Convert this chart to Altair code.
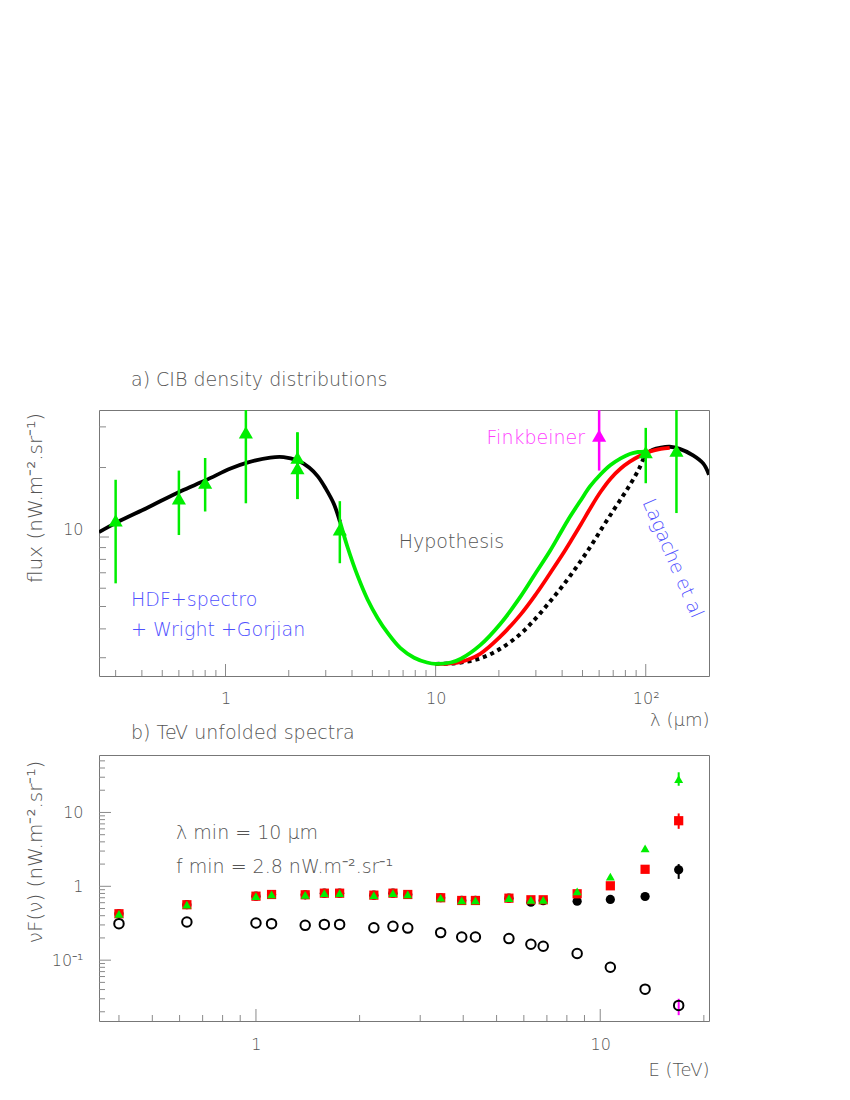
import altair as alt
import pandas as pd

FONT = "DejaVu Sans"
FW = 300
GREY = "#555555"
TICK = "#8a8a8a"
GREEN = "#00ee00"
RED = "#ff0000"
MAGENTA = "#ff00ff"
BLUE = "#5050ff"

# ---------------- panel a) CIB density distributions ----------------
nir_lam = [0.25, 0.306, 0.425, 0.612, 0.804, 1.057, 1.268, 1.635, 1.89, 2.19, 2.5, 2.75, 3.0, 3.28, 3.51]
nir_flux = [10.5, 11.6, 13.4, 15.8, 17.6, 19.8, 21.0, 22.1, 22.2, 21.5, 20.0, 18.3, 16.2, 13.9, 11.6]

fir_lam = [97.5, 101, 108, 118, 130, 145, 168, 188, 200]
fir_flux = [21.8, 23.0, 23.9, 24.4, 24.6, 24.1, 22.6, 20.8, 18.6]

green_lam = [3.51, 3.8, 4.25, 4.75, 5.3, 5.9, 6.8, 7.9, 9.1, 10, 11.8, 13.2, 16.3, 20.3, 25.3,
             30, 35, 39, 43, 49, 54.4, 61, 68, 76, 84, 92, 99]
green_flux = [11.6, 9.1, 6.8, 5.35, 4.45, 3.85, 3.3, 3.0, 2.86, 2.82, 2.86, 2.97, 3.4, 4.2, 5.5,
              7.0, 8.7, 10.3, 12.0, 14.4, 16.6, 18.7, 20.5, 21.9, 22.9, 23.35, 23.45]

red_lam = [10, 11.5, 13.2, 16.3, 20.3, 25.3, 30, 35, 40, 44, 49, 54.4, 61, 68, 76, 84, 94, 105, 118, 130]
red_flux = [2.82, 2.83, 2.88, 3.12, 3.7, 4.6, 5.65, 6.95, 8.35, 9.6, 11.3, 13.3, 15.7, 17.9, 19.8, 21.2,
            22.5, 23.5, 24.1, 24.35]

dot_lam = [10, 11.5, 13.2, 16.3, 20.3, 25.3, 30, 35, 40, 47, 54.4, 62, 70, 78, 84, 90, 94, 97.5]
dot_flux = [2.82, 2.83, 2.86, 2.98, 3.28, 3.8, 4.45, 5.25, 6.1, 7.45, 9.05, 10.95, 13.0, 15.1, 16.8,
            18.7, 20.2, 21.8]

cib_lam = [0.3, 0.6, 0.8, 1.25, 2.2, 2.2, 3.5, 100, 140]
cib_flux = [11.8, 14.7, 17.2, 28.4, 22.1, 19.9, 10.8, 23.3, 23.7]
cib_lo = [6.3, 10.2, 12.9, 14.0, 14.6, 14.6, 7.7, 17.1, 12.7]
cib_hi = [17.7, 19.4, 22.0, 45.0, 28.4, 28.4, 14.3, 29.7, 45.0]

fink_lam = [60]
fink_flux = [27.5]
fink_lo = [19.4]
fink_hi = [45.0]

top_x_minor = [0.3, 0.4, 0.5, 0.6, 0.7, 0.8, 0.9, 2, 3, 4, 5, 6, 7, 8, 9,
               20, 30, 40, 50, 60, 70, 80, 90]
top_x_major = [1, 10, 100]
top_y_minor = [3, 4, 5, 6, 7, 8, 9, 20, 30]
top_y_major = [10]

top_text = ["Hypothesis", "HDF+spectro", "+ Wright +Gorjian", "Finkbeiner", "Lagache et al"]
top_text_lam = [11.9, 0.355, 0.355, 51.4, 134.5]
top_text_flux = [9.51, 5.33, 3.97, 26.8, 8.08]

# ---------------- panel b) TeV unfolded spectra ----------------
E = [0.4, 0.63, 1.0, 1.11, 1.39, 1.58, 1.75, 2.2, 2.5, 2.76, 3.44, 3.96, 4.34, 5.43,
     6.29, 6.83, 8.57, 10.7, 13.5, 16.9]
open_nf = [0.312, 0.328, 0.318, 0.312, 0.296, 0.305, 0.305, 0.275, 0.287, 0.272, 0.236,
           0.206, 0.206, 0.196, 0.164, 0.154, 0.123, 0.080, 0.0405, 0.0244]
black_nf = [0.425, 0.563, 0.735, 0.775, 0.768, 0.807, 0.807, 0.759, 0.807, 0.775, 0.70,
            0.643, 0.643, 0.691, 0.61, 0.64, 0.629, 0.664, 0.728, 1.67]
red_nf = [0.425, 0.563, 0.735, 0.775, 0.768, 0.807, 0.807, 0.759, 0.807, 0.775, 0.70,
          0.643, 0.643, 0.691, 0.657, 0.657, 0.792, 1.016, 1.70, 7.73]
green_nf = [0.425, 0.563, 0.735, 0.775, 0.768, 0.807, 0.807, 0.759, 0.807, 0.775, 0.70,
            0.643, 0.643, 0.691, 0.657, 0.657, 0.851, 1.356, 3.27, 28.2]

err_E = [16.9]
err_open = [(0.018, 0.030)]
err_black = [(1.26, 2.0)]
err_red = [(6.0, 9.7)]
err_green = [(23.0, 35.0)]

bot_x_minor = [0.4, 0.5, 0.6, 0.7, 0.8, 0.9, 2, 3, 4, 5, 6, 7, 8, 9, 20]
bot_x_major = [1, 10]
bot_y_minor = [0.02, 0.03, 0.04, 0.05, 0.06, 0.07, 0.08, 0.09,
               0.2, 0.3, 0.4, 0.5, 0.6, 0.7, 0.8, 0.9,
               2, 3, 4, 5, 6, 7, 8, 9, 20, 30, 40, 50]
bot_y_major = [0.1, 1, 10]

bot_text = ["λ min = 10 μm", "f min = 2.8 nW.m⁻².sr⁻¹"]
bot_text_E = [0.586, 0.586]
bot_text_nf = [5.22, 1.85]

panel_titles = ["a) CIB density distributions", "b) TeV unfolded spectra"]

W, H = 610, 266


# ---------------- encodings ----------------
def top_x(f):
    return alt.X(f"{f}:Q",
                 scale=alt.Scale(type="log", domain=[0.25, 200], nice=False),
                 axis=alt.Axis(values=top_x_major, ticks=False, domain=False, grid=False,
                               labelExpr="datum.value > 50 ? '10²' : datum.value > 5 ? '10' : '1'",
                               labelPadding=14, labelFlush=False,
                               title="λ (μm)", titleX=W, titleY=44, titleAlign="right",
                               titleBaseline="middle"))


def top_y(f):
    return alt.Y(f"{f}:Q",
                 scale=alt.Scale(type="log", domain=[2.5, 35.5], nice=False),
                 axis=alt.Axis(values=top_y_major, ticks=False, domain=False, grid=False,
                               labelExpr="'10'", labelPadding=16, labelOffset=-8,
                               title="flux (nW.m⁻².sr⁻¹)", titleX=-64, titleY=87.5,
                               titleFontSize=20,
                               titleBaseline="middle", titleAlign="center"))


def bot_x(f):
    return alt.X(f"{f}:Q",
                 scale=alt.Scale(type="log", domain=[0.35, 20.7], nice=False),
                 axis=alt.Axis(values=bot_x_major, ticks=False, domain=False, grid=False,
                               labelExpr="datum.value > 5 ? '10' : '1'",
                               labelPadding=15, labelFlush=False,
                               title="E (TeV)", titleX=W, titleY=49, titleAlign="right",
                               titleBaseline="middle"))


def bot_y(f):
    return alt.Y(f"{f}:Q",
                 scale=alt.Scale(type="log", domain=[0.015, 60], nice=False),
                 axis=alt.Axis(values=bot_y_major, ticks=False, domain=False, grid=False,
                               labelExpr="datum.value > 5 ? '10' : datum.value > 0.5 ? '1' : '10⁻¹'",
                               labelPadding=16,
                               title="νF(ν) (nW.m⁻².sr⁻¹)", titleX=-64, titleY=96.5,
                               titleFontSize=20,
                               titleBaseline="middle", titleAlign="center"))


def xticks(vals, xenc, length):
    return alt.Chart(pd.DataFrame({"t": vals})).mark_rule(color=TICK, strokeWidth=1).encode(
        x=xenc("t"), y=alt.value(H), y2=alt.value(H - length))


def yticks(vals, yenc, length):
    return alt.Chart(pd.DataFrame({"t": vals})).mark_rule(color=TICK, strokeWidth=1).encode(
        y=yenc("t"), x=alt.value(0), x2=alt.value(length))


def curve(lam, flux, color, width=3.8, dash=None):
    kw = dict(color=color, strokeWidth=width, interpolate="catmull-rom", clip=True)
    if dash:
        kw["strokeDash"] = dash
        kw["strokeCap"] = "butt"
    return alt.Chart(pd.DataFrame({"lam": lam, "flux": flux})).mark_line(**kw).encode(
        x=top_x("lam"), y=top_y("flux"), order="lam:Q")


def panel_title(text, ypix):
    return alt.Chart(pd.DataFrame({"t": [text]})).mark_text(
        align="left", baseline="middle", font=FONT, fontSize=19, fontWeight=FW, color=GREY
    ).encode(x=alt.value(32), y=alt.value(ypix), text="t:N")


# ---------------- top panel ----------------
cib_df = pd.DataFrame({"lam": cib_lam, "flux": cib_flux, "lo": cib_lo, "hi": cib_hi})
fink_df = pd.DataFrame({"lam": fink_lam, "flux": fink_flux, "lo": fink_lo, "hi": fink_hi})
ttxt = pd.DataFrame({"lam": top_text_lam, "flux": top_text_flux, "txt": top_text})

text_common = dict(font=FONT, fontSize=19, fontWeight=FW, baseline="middle")

top_layers = [
    xticks(top_x_minor, top_x, 6),
    xticks(top_x_major, top_x, 12),
    yticks(top_y_minor, top_y, 7),
    yticks(top_y_major, top_y, 10),
    curve(nir_lam, nir_flux, "black"),
    curve(fir_lam, fir_flux, "black"),
    curve(dot_lam, dot_flux, "black", width=4, dash=[4, 4]),
    curve(red_lam, red_flux, RED),
    curve(green_lam, green_flux, GREEN),
    alt.Chart(cib_df).mark_rule(color=GREEN, strokeWidth=2.5, clip=True).encode(
        x=top_x("lam"), y=top_y("lo"), y2="hi:Q"),
    alt.Chart(cib_df).mark_point(shape="triangle-up", filled=True, size=200, color=GREEN,
                                 opacity=1).encode(x=top_x("lam"), y=top_y("flux")),
    alt.Chart(fink_df).mark_rule(color=MAGENTA, strokeWidth=2.5, clip=True).encode(
        x=top_x("lam"), y=top_y("lo"), y2="hi:Q"),
    alt.Chart(fink_df).mark_point(shape="triangle-up", filled=True, size=200, color=MAGENTA,
                                  opacity=1).encode(x=top_x("lam"), y=top_y("flux")),
    alt.Chart(ttxt).transform_filter("datum.txt == 'Hypothesis'").mark_text(
        align="center", color=GREY, **text_common).encode(
        x=top_x("lam"), y=top_y("flux"), text="txt:N"),
    alt.Chart(ttxt).transform_filter("indexof(datum.txt, 'Wright') >= 0 || datum.txt == 'HDF+spectro'").mark_text(
        align="left", color=BLUE, **text_common).encode(
        x=top_x("lam"), y=top_y("flux"), text="txt:N"),
    alt.Chart(ttxt).transform_filter("datum.txt == 'Finkbeiner'").mark_text(
        align="right", color="#ff40ff", **text_common).encode(
        x=top_x("lam"), y=top_y("flux"), text="txt:N"),
    alt.Chart(ttxt).transform_filter("datum.txt == 'Lagache et al'").mark_text(
        align="center", color=BLUE, angle=67, **text_common).encode(
        x=top_x("lam"), y=top_y("flux"), text="txt:N"),
    panel_title(panel_titles[0], -30),
]

top = alt.layer(*top_layers).properties(width=W, height=H)

# ---------------- bottom panel ----------------
pts = pd.DataFrame({"E": E, "open": open_nf, "black": black_nf, "red": red_nf, "green": green_nf})


def err_df(pairs):
    return pd.DataFrame({"E": err_E, "lo": [p[0] for p in pairs], "hi": [p[1] for p in pairs]})


def err_rule(pairs, color):
    return alt.Chart(err_df(pairs)).mark_rule(color=color, strokeWidth=2, clip=True).encode(
        x=bot_x("E"), y=bot_y("lo"), y2="hi:Q")


btxt = pd.DataFrame({"E": bot_text_E, "nf": bot_text_nf, "txt": bot_text})

bot_layers = [
    xticks(bot_x_minor, bot_x, 6),
    xticks(bot_x_major, bot_x, 12),
    yticks(bot_y_minor, bot_y, 6),
    yticks(bot_y_major, bot_y, 12),
    err_rule(err_black, "black"),
    alt.Chart(pts).mark_point(shape="circle", filled=True, size=85, color="black", opacity=1).encode(
        x=bot_x("E"), y=bot_y("black")),
    err_rule(err_red, RED),
    alt.Chart(pts).mark_point(shape="square", filled=True, size=85, color=RED, opacity=1).encode(
        x=bot_x("E"), y=bot_y("red")),
    err_rule(err_green, GREEN),
    alt.Chart(pts).mark_point(shape="triangle-up", filled=True, size=80, color=GREEN, opacity=1).encode(
        x=bot_x("E"), y=bot_y("green")),
    err_rule(err_open, MAGENTA),
    alt.Chart(pts).mark_point(shape="circle", filled=False, size=90, color="black", strokeWidth=2,
                              opacity=1).encode(x=bot_x("E"), y=bot_y("open")),
    alt.Chart(btxt).mark_text(align="left", color=GREY, **text_common).encode(
        x=bot_x("E"), y=bot_y("nf"), text="txt:N"),
    panel_title(panel_titles[1], -22),
]

bottom = alt.layer(*bot_layers).properties(width=W, height=H)

chart = alt.vconcat(top, bottom, spacing=79, bounds="flush").resolve_scale(
    x="independent", y="independent").properties(
    padding={"left": 16, "top": 362, "right": 20, "bottom": 10}
).configure_view(stroke="#777777", strokeWidth=1).configure_axis(
    labelFont=FONT, labelFontSize=16, labelFontWeight=FW, labelColor=GREY,
    titleFont=FONT, titleFontSize=18, titleFontWeight=FW, titleColor=GREY)

chart.save("out.html", embed_options={"renderer": "svg", "actions": False})
